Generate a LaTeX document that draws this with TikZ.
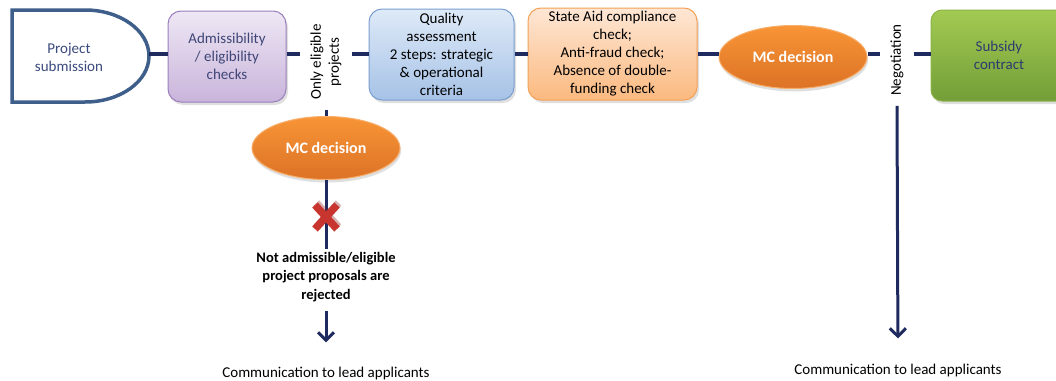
\documentclass[tikz,border=0pt]{standalone}
\usepackage{fontspec}
\setmainfont{Carlito}
\usetikzlibrary{shapes.geometric,shadows,arrows.meta}
\definecolor{navy}{HTML}{1F2B5E}
\definecolor{psblue}{HTML}{3E5F8A}
\definecolor{pstext}{HTML}{3B4A7E}
\definecolor{admtop}{HTML}{EEE7F4}
\definecolor{admbot}{HTML}{C9B4DB}
\definecolor{admdraw}{HTML}{9B7FBD}
\definecolor{admtext}{HTML}{3E4676}
\definecolor{qtop}{HTML}{DEEAF8}
\definecolor{qbot}{HTML}{A6C2E6}
\definecolor{qdraw}{HTML}{7A9ED0}
\definecolor{satop}{HTML}{FEE7D5}
\definecolor{sabot}{HTML}{FBB97F}
\definecolor{sadraw}{HTML}{F4A057}
\definecolor{mctop}{HTML}{F89536}
\definecolor{mcbot}{HTML}{DC7226}
\definecolor{mcdraw}{HTML}{F7AE6A}
\definecolor{subtop}{HTML}{A2CA52}
\definecolor{subbot}{HTML}{739E38}
\definecolor{subdraw}{HTML}{8DB348}
\definecolor{subtext}{HTML}{2E3B6E}
\definecolor{xred}{HTML}{C8342E}
\begin{document}
\begin{tikzpicture}[x=1pt,y=-1pt,
  conn/.style={draw=navy,line width=3.5pt},
  arr/.style={draw=navy,line width=3pt,-{Straight Barb[length=8pt,width=16pt]}},
  txt/.style={font=\fontsize{15}{18}\selectfont,align=center},
  box/.style={txt,rectangle,rounded corners=13pt,line width=1pt,inner sep=2pt,
    drop shadow={opacity=0.25,shadow xshift=2pt,shadow yshift=-3pt}},
  mc/.style={ellipse,minimum width=148pt,minimum height=63pt,inner sep=0pt,
    top color=mctop,bottom color=mcbot,draw=mcdraw,line width=1pt,
    font=\fontsize{16}{18}\selectfont\bfseries,text=white,
    drop shadow={opacity=0.25,shadow xshift=1pt,shadow yshift=-3pt}},
  vlab/.style={txt,rotate=90,inner sep=10pt}]
\useasboundingbox (0,0) rectangle (1056,380);
\clip (0,0) rectangle (1056,380);
\fill[white] (0,0) rectangle (1056,380);
\coordinate (L) at (0,54);
% project submission shape
\draw[line width=3.5pt,draw=psblue,fill=white] (12,10) -- (85,10)
  arc[start angle=90,end angle=-90,x radius=64pt,y radius=46pt] -- (12,102) -- cycle;
\node[txt,text=pstext] (ps) at (69,57) {Project\\submission};
\coordinate (psE) at (149,54);
% boxes
\node[box,minimum width=118pt,minimum height=91pt,top color=admtop,bottom color=admbot,draw=admdraw,text=admtext]
  (adm) at (227,56.5) {Admissibility\\/ eligibility\\checks};
\node[vlab] (oe) at (326,62) {Only eligible\\projects};
\node[box,minimum width=145pt,minimum height=91pt,top color=qtop,bottom color=qbot,draw=qdraw]
  (q) at (441.5,54.5) {Quality\\assessment\\2 steps: strategic\\\& operational\\criteria};
\node[box,minimum width=169pt,minimum height=92pt,top color=satop,bottom color=sabot,draw=sadraw]
  (sa) at (612.5,54) {State Aid compliance\\check;\\Anti-fraud check;\\Absence of double-\\funding check};
\node[mc] (mc2) at (793,57) {MC decision};
\node[vlab] (neg) at (897,60) {Negotiation};
\node[box,minimum width=136pt,minimum height=91pt,top color=subtop,bottom color=subbot,draw=subdraw,text=subtext,
  rounded corners=11pt] (sub) at (999,55.5) {Subsidy\\contract};
% lower branch
\node[mc] (mc1) at (326,148) {MC decision};
\node[txt,font=\fontsize{14.5}{18.5}\selectfont\bfseries,inner sep=3pt] (rej) at (326,277)
  {Not admissible/eligible\\project proposals are\\rejected};
\node[txt,inner sep=0pt] (com1) at (326,373) {Communication to lead applicants};
\node[txt,inner sep=0pt] (com2) at (898,370) {Communication to lead applicants};
% connectors
\draw[conn] (psE) -- (adm.west |- L);
\draw[conn] (adm.east |- L) -- (oe.north |- L);
\draw[conn] (oe.south |- L) -- (q.west |- L);
\draw[conn] (q.east |- L) -- (sa.west |- L);
\draw[conn] (sa.east |- L) -- (mc2.west |- L);
\draw[conn] (mc2.east |- L) -- (neg.north |- L);
\draw[conn] (neg.south |- L) -- (sub.west |- L);
\draw[conn,line width=3pt] (oe.west) -- (mc1.north);
\draw[conn,line width=3pt] (mc1.south) -- (rej.north);
\coordinate (xc) at (326,217);
\draw[xred!70!black,line width=7.5pt,opacity=0.35,shift={(xc)},xshift=1.5pt,yshift=2pt]
  (-11,-12) -- (11,12) (-11,12) -- (11,-12);
\draw[xred,line width=7.5pt,shift={(xc)}] (-11,-12) -- (11,12) (-11,12) -- (11,-12);
\draw[arr,shorten <=6pt,shorten >=24pt] (rej.south) -- (com1.north);
\draw[arr,shorten >=25pt] (neg.west) -- (com2.north);
\end{tikzpicture}
\end{document}
